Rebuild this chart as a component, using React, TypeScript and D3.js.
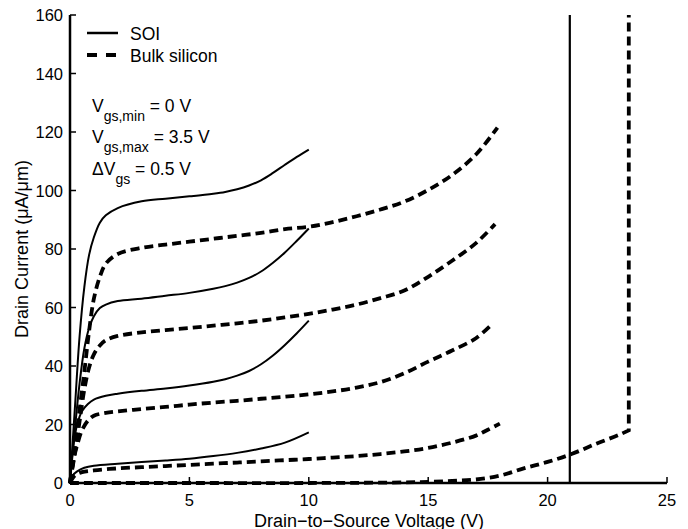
import React from "react";
import * as d3 from "d3";

type Pt = [number, number];

// Drain-to-source voltage (V), drain current (µA/µm)
const soi35: Pt[] = [[0,0],[0.2,25],[0.4,50],[0.6,67],[0.8,78],[1.0,84],[1.25,89],[1.5,91.5],[2,94],[3,96.3],[4,97.2],[5,98],[6,98.9],[6.5,99.5],[7,100.4],[7.5,101.7],[8,103.5],[8.5,106],[9,108.8],[9.5,111.5],[10,114]];
const soi30: Pt[] = [[0,0],[0.2,18],[0.4,34],[0.6,46],[0.8,53],[1.0,57],[1.25,59.8],[1.5,61],[2,62.2],[3,63],[4,64],[5,65],[6,66.4],[6.5,67.3],[7,68.5],[7.5,70.1],[8,72.3],[8.5,75.3],[9,78.8],[9.5,82.8],[10,87]];
const soi25: Pt[] = [[0,0],[0.1,10],[0.2,16],[0.3,20],[0.5,24.5],[0.75,27],[1,28.5],[1.5,29.8],[2,30.5],[3,31.5],[4,32.3],[5,33.3],[6,34.6],[6.5,35.5],[7,36.7],[7.5,38.3],[8,40.6],[8.5,43.6],[9,47.2],[9.5,51.2],[10,55.5]];
const soi20: Pt[] = [[0,0],[0.1,2.5],[0.3,4],[0.6,5.2],[1,5.9],[2,6.6],[3,7.2],[4,7.7],[5,8.3],[6,9.2],[7,10.3],[8,11.8],[9,13.8],[10,17.3]];
const soi00: Pt[] = [[0,0],[20.93,0],[20.93,160]];

const bulk35: Pt[] = [[0,0],[0.2,12],[0.4,25],[0.6,38],[0.8,52],[1.0,63],[1.25,70.5],[1.5,75],[2,78.3],[3,80.4],[4,81.5],[5,82.5],[6,83.5],[7,84.5],[8,85.5],[9,86.8],[10,87.6],[11,89.2],[12,91.2],[13,93.5],[14,96.2],[15,100.2],[16,105.3],[17,112.3],[17.9,121.5]];
const bulk30: Pt[] = [[0,0],[0.2,10],[0.4,21],[0.6,32],[0.8,39.5],[1.0,44],[1.25,47],[1.5,48.8],[2,50.3],[3,51.5],[4,52.3],[5,53],[6,53.8],[7,54.6],[8,55.5],[9,56.6],[10,57.8],[11,59.3],[12,61],[13,63.2],[14,65.8],[15,70.5],[16,76],[17,82],[17.8,88.5]];
const bulk25: Pt[] = [[0,0],[0.15,8],[0.3,13],[0.5,18],[0.75,21.3],[1,23],[1.5,24],[2,24.5],[3,25.3],[4,26],[5,26.8],[6,27.5],[7,28.1],[8,28.8],[9,29.5],[10,30.3],[11,31.3],[12,32.6],[13,34.5],[14,37.5],[15,41.5],[16,45.3],[17,49.5],[17.7,54.5]];
const bulk20: Pt[] = [[0,0],[0.2,2.5],[0.5,3.7],[1,4.3],[2,5],[3,5.4],[4,5.8],[5,6.2],[6,6.6],[7,7],[8,7.4],[9,7.8],[10,8.2],[11,8.7],[12,9.2],[13,9.9],[14,10.8],[15,12],[16,13.8],[17,16.2],[17.5,18.2],[18,20.3]];
const bulk00: Pt[] = [[0,0],[5,0],[10,0],[14,0.2],[15,0.4],[16,0.7],[17,1.2],[18,2.5],[19,5],[20,7.2],[21,9.9],[22,13.3],[23,16.5],[23.4,18],[23.4,160]];

const soiCurves: Pt[][] = [soi35, soi30, soi25, soi20];
const bulkCurves: Pt[][] = [bulk35, bulk30, bulk25, bulk20];

const xTicks = [0, 5, 10, 15, 20, 25];
const yTicks = [0, 20, 40, 60, 80, 100, 120, 140, 160];
const legendLabels = ["SOI", "Bulk silicon"];
const xLabel = "Drain\u2212to\u2212Source Voltage (V)";
const yLabel = "Drain Current (\u03bcA/\u03bcm)";

const W = 688, H = 529;
const FONT = "'Liberation Sans', Arial, Helvetica, sans-serif";

export default function App() {
  const x = d3.scaleLinear().domain([0, 25]).range([70, 667]);
  const y = d3.scaleLinear().domain([0, 160]).range([483, 15]);
  const smooth = d3.line<Pt>().x(d => x(d[0])).y(d => y(d[1])).curve(d3.curveCatmullRom.alpha(0.5));
  const straight = d3.line<Pt>().x(d => x(d[0])).y(d => y(d[1]));
  const dash = "9,5";
  const last = bulk00[bulk00.length - 1];

  return (
    <svg width={W} height={H} style={{ position: "absolute", left: 0, top: 0, background: "#fff" }} fontFamily={FONT}>
      <rect width={W} height={H} fill="#fff" />
      {/* curves */}
      {soiCurves.map((c, i) => (
        <path key={"s" + i} d={smooth(c) || ""} fill="none" stroke="#000" strokeWidth={2} />
      ))}
      <path d={straight(soi00) || ""} fill="none" stroke="#000" strokeWidth={2.2} />
      {bulkCurves.map((c, i) => (
        <path key={"b" + i} d={smooth(c) || ""} fill="none" stroke="#000" strokeWidth={3.8} strokeDasharray={dash} />
      ))}
      <path d={smooth(bulk00.slice(0, -1)) + "L" + x(last[0]) + "," + y(last[1])} fill="none" stroke="#000" strokeWidth={3.8} strokeDasharray={dash} />

      {/* axes */}
      <line x1={x(0)} x2={x(25)} y1={y(0)} y2={y(0)} stroke="#000" strokeWidth={2.5} />
      <line x1={x(0)} x2={x(0)} y1={y(0) + 1} y2={y(160)} stroke="#000" strokeWidth={2.5} />
      {xTicks.map(t => (
        <g key={"xt" + t}>
          <line x1={x(t)} x2={x(t)} y1={y(0)} y2={y(0) - 6} stroke="#000" strokeWidth={1.5} />
          <text x={x(t)} y={505.5} textAnchor="middle" fontSize={16.5}>{t}</text>
        </g>
      ))}
      {yTicks.map(t => (
        <g key={"yt" + t}>
          <line x1={x(0)} x2={x(0) + 6} y1={y(t)} y2={y(t)} stroke="#000" strokeWidth={1.5} />
          <text x={63} y={y(t) + 6} textAnchor="end" fontSize={16.5}>{t}</text>
        </g>
      ))}
      <text x={369} y={526.5} textAnchor="middle" fontSize={18}>{xLabel}</text>
      <text transform={`translate(28,249) rotate(-90)`} textAnchor="middle" fontSize={18}>{yLabel}</text>

      {/* legend */}
      <line x1={87} x2={118} y1={33} y2={33} stroke="#000" strokeWidth={2.5} />
      <text x={130} y={39.5} fontSize={17.5}>{legendLabels[0]}</text>
      <line x1={87} x2={118} y1={55} y2={55} stroke="#000" strokeWidth={3.8} strokeDasharray="10,9" />
      <text x={130} y={61.5} fontSize={17.5}>{legendLabels[1]}</text>

      {/* annotations */}
      <text x={92} y={112} fontSize={17.5}>V<tspan fontSize={14} dy={9}>gs,min</tspan><tspan dy={-9}> = 0 V</tspan></text>
      <text x={92} y={143} fontSize={17.5}>V<tspan fontSize={14} dy={9}>gs,max</tspan><tspan dy={-9}> = 3.5 V</tspan></text>
      <text x={92} y={175} fontSize={17.5}>{"\u0394"}V<tspan fontSize={14} dy={9}>gs</tspan><tspan dy={-9}> = 0.5 V</tspan></text>
    </svg>
  );
}
